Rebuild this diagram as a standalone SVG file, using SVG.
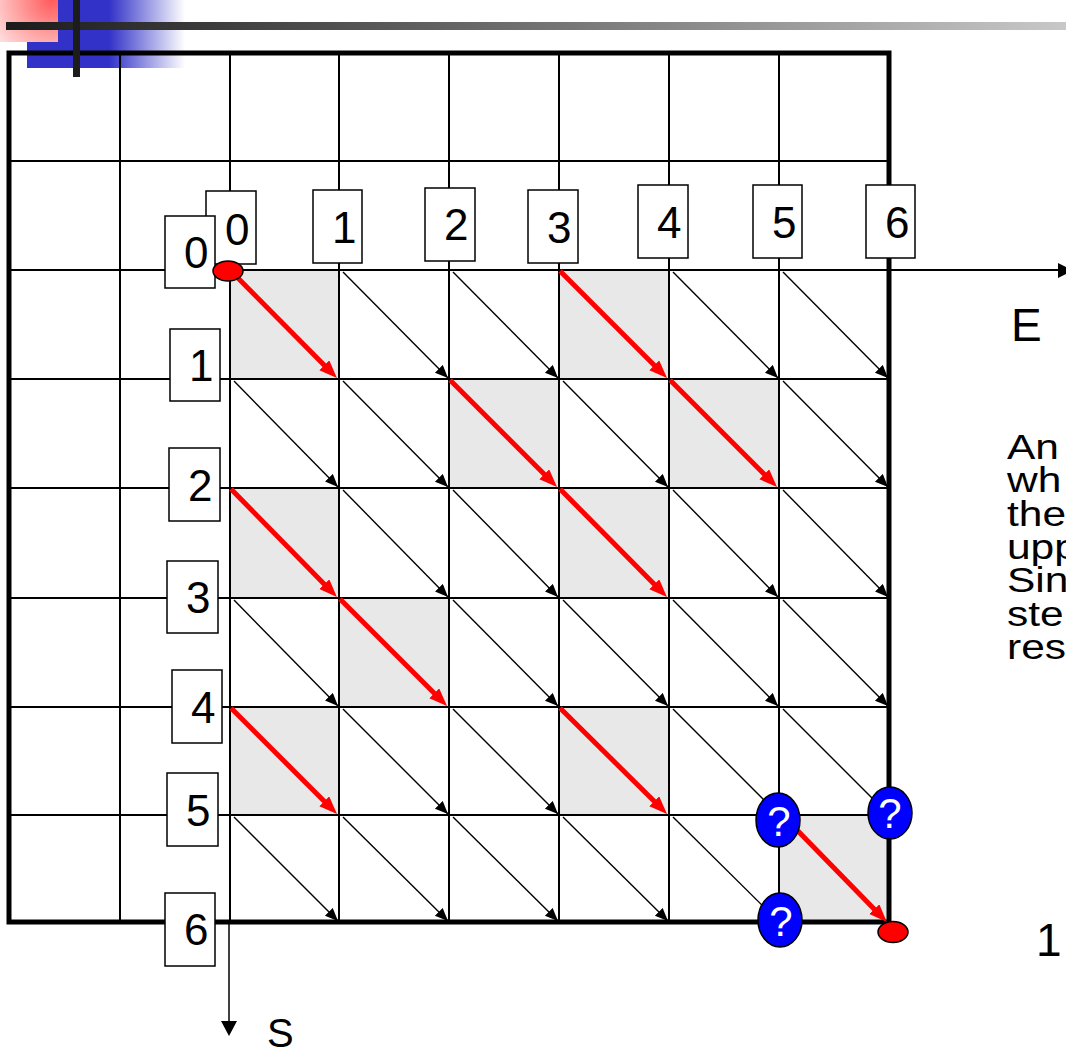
<svg xmlns="http://www.w3.org/2000/svg" width="1066" height="1057" viewBox="0 0 1066 1057">
<style>
.grid{stroke:#000;stroke-width:2;fill:none}
.border{stroke:#000;stroke-width:5;fill:none}
.cellg{fill:#e8e8e8;stroke:none}
.lbl rect{fill:#fff;stroke:#000;stroke-width:1.5}
.lbl text{font-family:"Liberation Sans",Arial,sans-serif;font-size:44px;fill:#000}
.blk{stroke:#000;stroke-width:1.4;fill:none;marker-end:url(#ab)}
.red{stroke:#ff0000;stroke-width:5;fill:none;marker-end:url(#ar)}
.q ellipse{fill:#0000ff;stroke:#000;stroke-width:1.5}
.q text{font-family:"Liberation Sans",Arial,sans-serif;font-size:42px;fill:#fff;text-anchor:middle}
.txt{font-family:"Liberation Sans",Arial,sans-serif;fill:#000}
</style>
<defs>
<marker id="ab" markerUnits="userSpaceOnUse" markerWidth="14" markerHeight="12" refX="13" refY="5.5" orient="auto"><path d="M0,0 L13,5.5 L0,11 z" fill="#000"/></marker>
<marker id="ar" markerUnits="userSpaceOnUse" markerWidth="19" markerHeight="15" refX="6" refY="7" orient="auto"><path d="M0,0 L18,7 L0,14 z" fill="#ff0000"/></marker>
<radialGradient id="redg" gradientUnits="userSpaceOnUse" cx="52" cy="0" r="75"><stop offset="0" stop-color="#ff5a5a"/><stop offset="1" stop-color="#fff0f0"/></radialGradient>
<linearGradient id="blueg" gradientUnits="userSpaceOnUse" x1="27" y1="0" x2="185" y2="0"><stop offset="0" stop-color="#3232c8"/><stop offset="0.52" stop-color="#3232c8"/><stop offset="1" stop-color="#ffffff"/></linearGradient>
<linearGradient id="barg" gradientUnits="userSpaceOnUse" x1="0" y1="0" x2="1066" y2="0"><stop offset="0" stop-color="#1a1a1a"/><stop offset="1" stop-color="#c8c8c8"/></linearGradient>
</defs>
<g id="decoration">
<rect x="27" y="0" width="158" height="68" fill="url(#blueg)"/>
<rect x="0" y="0" width="58" height="42" fill="url(#redg)"/>
<rect x="6" y="22" width="1060" height="8" fill="url(#barg)"/>
</g>
<g id="shaded-cells">
<rect class="cellg" x="230" y="270" width="109" height="109"/>
<rect class="cellg" x="559" y="270" width="110" height="109"/>
<rect class="cellg" x="449" y="379" width="110" height="109"/>
<rect class="cellg" x="669" y="379" width="110" height="109"/>
<rect class="cellg" x="230" y="488" width="109" height="110"/>
<rect class="cellg" x="559" y="488" width="110" height="110"/>
<rect class="cellg" x="339" y="598" width="110" height="109"/>
<rect class="cellg" x="230" y="707" width="109" height="108"/>
<rect class="cellg" x="559" y="707" width="110" height="108"/>
<rect class="cellg" x="779" y="815" width="110" height="107"/>
</g>
<g id="grid">
<path class="grid" d="M120,53V922 M230,53V922 M339,53V922 M449,53V922 M559,53V922 M669,53V922 M779,53V922 M8,161H889 M8,379H889 M8,488H889 M8,598H889 M8,707H889 M8,815H889"/>
<path class="grid" d="M8,270H1058"/>
<rect class="border" x="9" y="53" width="880" height="869"/>
<rect x="73" y="0" width="7" height="77" fill="#1c1c1c"/>
</g>
<g id="axes">
<line x1="229" y1="922" x2="229" y2="1022" stroke="#000" stroke-width="1.5"/>
<polygon points="221,1021 237,1021 229,1036" fill="#000"/>
<polygon points="1058,263 1058,278 1073,270.5" fill="#000"/>
<text class="txt" x="1011" y="341" font-size="46">E</text>
<text class="txt" x="267" y="1047" font-size="40">S</text>
</g>
<g id="connectors">
<path class="blk" d="M343,272L448,378"/>
<path class="blk" d="M453,272L558,378"/>
<path class="blk" d="M673,272L778,378"/>
<path class="blk" d="M783,272L888,378"/>
<path class="blk" d="M234,381L338,487"/>
<path class="blk" d="M343,381L448,487"/>
<path class="blk" d="M563,381L668,487"/>
<path class="blk" d="M783,381L888,487"/>
<path class="blk" d="M343,490L448,597"/>
<path class="blk" d="M453,490L558,597"/>
<path class="blk" d="M673,490L778,597"/>
<path class="blk" d="M783,490L888,597"/>
<path class="blk" d="M234,600L338,706"/>
<path class="blk" d="M453,600L558,706"/>
<path class="blk" d="M563,600L668,706"/>
<path class="blk" d="M673,600L778,706"/>
<path class="blk" d="M783,600L888,706"/>
<path class="blk" d="M343,709L448,814"/>
<path class="blk" d="M453,709L558,814"/>
<path class="blk" d="M673,709L778,814"/>
<path class="blk" d="M783,709L888,814"/>
<path class="blk" d="M234,817L338,921"/>
<path class="blk" d="M343,817L448,921"/>
<path class="blk" d="M453,817L558,921"/>
<path class="blk" d="M563,817L668,921"/>
<path class="blk" d="M673,817L778,921"/>
<path class="red" d="M231,271L328.5,369.5"/>
<path class="red" d="M560,271L658.5,369.5"/>
<path class="red" d="M450,380L548.5,478.5"/>
<path class="red" d="M670,380L768.5,478.5"/>
<path class="red" d="M231,489L328.5,588.5"/>
<path class="red" d="M560,489L658.5,588.5"/>
<path class="red" d="M340,599L438.5,697.5"/>
<path class="red" d="M231,708L328.5,805.5"/>
<path class="red" d="M560,708L658.5,805.5"/>
<path class="red" d="M796,829L878.5,913.5"/>
</g>
<g id="col-labels" class="lbl">
<g id="col0"><rect x="206" y="191" width="50" height="73"/><text x="225" y="245">0</text></g>
<g id="col1"><rect x="313" y="190" width="49" height="73"/><text x="332" y="243">1</text></g>
<g id="col2"><rect x="425" y="188" width="50" height="73"/><text x="444" y="240">2</text></g>
<g id="col3"><rect x="528" y="190" width="50" height="73"/><text x="547" y="243">3</text></g>
<g id="col4"><rect x="638" y="185" width="50" height="73"/><text x="657" y="238">4</text></g>
<g id="col5"><rect x="753" y="185" width="49" height="73"/><text x="772" y="238">5</text></g>
<g id="col6"><rect x="866" y="185" width="49" height="73"/><text x="885" y="238">6</text></g>
</g>
<g id="row-labels" class="lbl">
<g id="row0"><rect x="165" y="216" width="50" height="72"/><text x="184" y="268">0</text></g>
<g id="row1"><rect x="170" y="329" width="50" height="72"/><text x="189" y="381">1</text></g>
<g id="row2"><rect x="169" y="448" width="51" height="73"/><text x="188" y="501">2</text></g>
<g id="row3"><rect x="167" y="561" width="51" height="72"/><text x="186" y="613">3</text></g>
<g id="row4"><rect x="172" y="670" width="50" height="73"/><text x="191" y="723">4</text></g>
<g id="row5"><rect x="167" y="773" width="51" height="73"/><text x="186" y="826">5</text></g>
<g id="row6"><rect x="165" y="893" width="50" height="73"/><text x="184" y="945">6</text></g>
</g>
<g id="start-node"><ellipse cx="228" cy="271" rx="15" ry="10" fill="#ff0000" stroke="#000" stroke-width="1.5"/></g>
<g id="end-node"><ellipse cx="893" cy="932" rx="15" ry="10.5" fill="#ff0000" stroke="#000" stroke-width="1.5"/></g>
<g id="q1" class="q"><ellipse cx="778" cy="820" rx="22" ry="27"/><text x="779" y="836">?</text></g>
<g id="q2" class="q"><ellipse cx="890" cy="813" rx="22" ry="26"/><text x="890" y="828">?</text></g>
<g id="q3" class="q"><ellipse cx="780" cy="920" rx="22" ry="27"/><text x="781" y="936">?</text></g>
<g id="side-text" class="txt" font-size="36" transform="translate(1007,0) scale(1.18,1) translate(-1007,0)">
<text x="1007" y="459">An</text>
<text x="1007" y="492">wh</text>
<text x="1007" y="526">the</text>
<text x="1007" y="559">upp</text>
<text x="1007" y="592">Sin</text>
<text x="1007" y="626">ste</text>
<text x="1007" y="659">res</text>
</g>
<g id="footer-text" class="txt"><text x="1036" y="956" font-size="46">1</text></g>
</svg>
